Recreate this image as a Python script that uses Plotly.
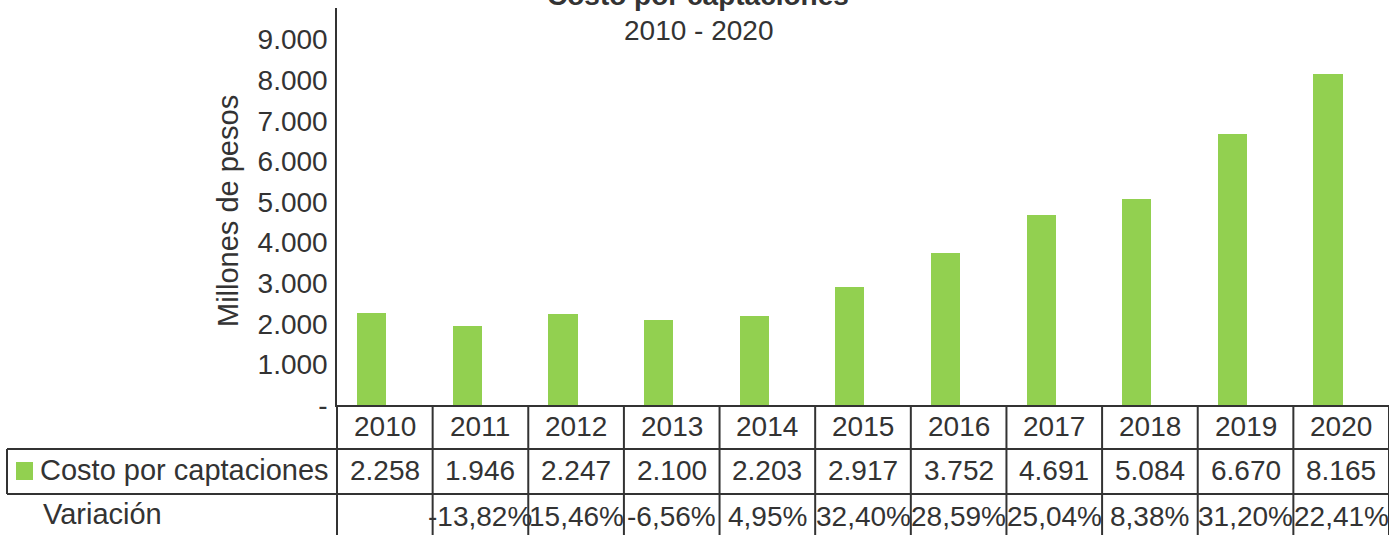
import plotly.graph_objects as go

# ---------------- data ----------------
years = ["2010", "2011", "2012", "2013", "2014", "2015", "2016", "2017", "2018", "2019", "2020"]
costo = [2258, 1946, 2247, 2100, 2203, 2917, 3752, 4691, 5084, 6670, 8165]
variacion = [None, -13.82, 15.46, -6.56, 4.95, 32.40, 28.59, 25.04, 8.38, 31.20, 22.41]
y_tickvals = [0, 1000, 2000, 3000, 4000, 5000, 6000, 7000, 8000, 9000]
y_ticktext = ["-", "1.000", "2.000", "3.000", "4.000", "5.000", "6.000", "7.000", "8.000", "9.000"]
title_text = "Costo por captaciones"
subtitle_text = "2010 - 2020"
y_title = "Millones de pesos"
series_name = "Costo por captaciones"
row2_name = "Variación"

# ---------------- style ----------------
W, H = 1400, 535
FONT = "Liberation Sans, Arial, sans-serif"
TXT = "#333333"
LINE = "#333333"
GREEN = "#92D050"
FS = 28


def py(pix):
    """pixel row -> paper y"""
    return (H - pix) / H


def px(pix):
    return pix / W


def fmt_thousands(v):
    return f"{v:,}".replace(",", ".")


def fmt_pct(v):
    return "" if v is None else f"{v:.2f}%".replace(".", ",")


fig = go.Figure()
fig.add_trace(go.Bar(
    x=list(range(len(years))), y=costo, name=series_name,
    marker=dict(color=GREEN, line=dict(width=0)),
    width=0.305, offset=-0.29, showlegend=False, hoverinfo="x+y",
))

x_dom = [px(337), px(1389)]
y_dom = [py(405), py(8)]

shapes = []
n = len(years)
# vertical table lines at category boundaries (below plot)
for i in range(n + 1):
    shapes.append(dict(type="line", xref="x", yref="paper", x0=i - 0.5, x1=i - 0.5,
                       y0=0, y1=py(405), line=dict(color=LINE, width=2)))
# horizontal table lines
for yy in (449, 494):
    shapes.append(dict(type="line", xref="paper", yref="paper", x0=px(7), x1=x_dom[1],
                       y0=py(yy), y1=py(yy), line=dict(color=LINE, width=2)))
# left border of series row
shapes.append(dict(type="line", xref="paper", yref="paper", x0=px(7), x1=px(7),
                   y0=py(449), y1=py(494), line=dict(color=LINE, width=2)))
# legend key
shapes.append(dict(type="rect", xref="paper", yref="paper", x0=px(16), x1=px(33),
                   y0=py(480), y1=py(462), fillcolor=GREEN, line=dict(width=0)))
# y axis line continues through table
shapes.append(dict(type="line", xref="paper", yref="paper", x0=x_dom[0], x1=x_dom[0],
                   y0=0, y1=py(405), line=dict(color=LINE, width=2)))

ann = []
font = dict(family=FONT, size=FS, color=TXT)
font_lbl = dict(family=FONT, size=29, color=TXT)
for i, yr in enumerate(years):
    ann.append(dict(x=i, y=py(426), xref="x", yref="paper", text=yr, showarrow=False,
                    xanchor="center", yanchor="middle", font=font))
    ann.append(dict(x=i, y=py(470), xref="x", yref="paper", text=fmt_thousands(costo[i]),
                    showarrow=False, xanchor="center", yanchor="middle", font=font))
    ann.append(dict(x=i, y=py(516), xref="x", yref="paper", text=fmt_pct(variacion[i]),
                    showarrow=False, xanchor="center", yanchor="middle", font=font))
ann.append(dict(x=px(38), y=py(470), xref="paper", yref="paper", text=series_name,
                showarrow=False, xanchor="left", yanchor="middle", font=font_lbl))
ann.append(dict(x=px(41), y=py(514), xref="paper", yref="paper", text=row2_name,
                showarrow=False, xanchor="left", yanchor="middle", font=font_lbl))
ann.append(dict(x=px(228), y=py(211), xref="paper", yref="paper", text=y_title,
                showarrow=False, xanchor="center", yanchor="middle", textangle=-90, font=font_lbl))
ann.append(dict(x=px(698), y=py(-4), xref="paper", yref="paper", text="<b>" + title_text + "</b>",
                showarrow=False, xanchor="center", yanchor="middle", font=font))
ann.append(dict(x=px(698), y=py(30), xref="paper", yref="paper", text=subtitle_text,
                showarrow=False, xanchor="center", yanchor="middle", font=font))

fig.update_layout(
    autosize=True,
    margin=dict(l=0, r=0, t=0, b=0, autoexpand=False),
    paper_bgcolor="white", plot_bgcolor="white",
    font=dict(family=FONT, color=TXT, size=FS),
    xaxis=dict(domain=x_dom, range=[-0.5, n - 0.5], showticklabels=False, ticks="",
               showgrid=False, zeroline=False, showline=True, linecolor=LINE, linewidth=2,
               fixedrange=True),
    yaxis=dict(domain=y_dom, range=[0, 9780], tickvals=y_tickvals, ticktext=y_ticktext,
               ticks="", showgrid=False, zeroline=False, showline=True, linecolor=LINE,
               linewidth=1.5, tickfont=dict(family=FONT, size=FS, color=TXT),
               ticklabelstandoff=2, fixedrange=True),
    shapes=shapes, annotations=ann, bargap=0,
)

fig.write_html(
    "out.html",
    default_width="100vw", default_height="100vh",
    config=dict(displayModeBar=False, responsive=True),
    post_script="document.body.style.margin='0';document.body.style.overflow='hidden';"
                "window.dispatchEvent(new Event('resize'));",
)
